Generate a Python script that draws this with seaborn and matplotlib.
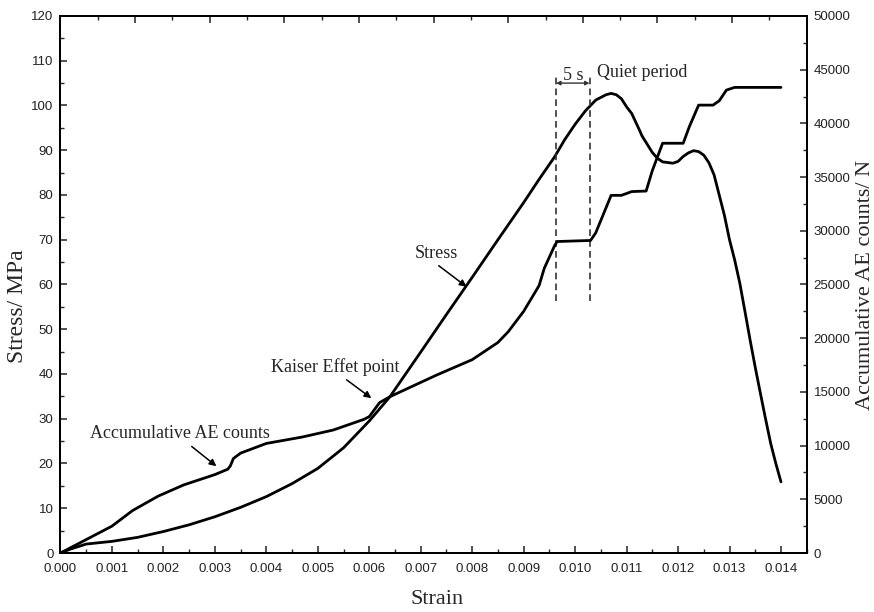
import pandas as pd
import matplotlib.pyplot as plt
import seaborn as sns
from matplotlib.ticker import MultipleLocator

# Stress curve (strain, MPa)
strain_s = [0.0, 0.0002, 0.0005, 0.001, 0.0015, 0.002, 0.0025, 0.003, 0.0035, 0.004,
            0.0045, 0.005, 0.0055, 0.006, 0.0064, 0.007, 0.0075, 0.008, 0.0085, 0.009,
            0.0093, 0.0096, 0.0098, 0.0100, 0.0102, 0.0104, 0.0106, 0.0107, 0.0108, 0.0109,
            0.0110, 0.0111, 0.01125, 0.0113, 0.0115, 0.0116, 0.0117, 0.0119, 0.0120, 0.0121,
            0.0122, 0.0123, 0.0124, 0.0125, 0.0126, 0.0127, 0.0128, 0.0129, 0.0130, 0.0131,
            0.0132, 0.0133, 0.0134, 0.0135, 0.0136, 0.0137, 0.0138, 0.0139, 0.0140]
stress = [0.0, 0.9, 2.0, 2.6, 3.5, 4.8, 6.3, 8.1, 10.2, 12.6,
          15.5, 18.9, 23.5, 29.5, 34.9, 44.9, 53.3, 61.6, 70.0, 78.3,
          83.5, 88.5, 92.4, 95.8, 98.8, 101.2, 102.4, 102.7, 102.4, 101.5,
          99.7, 98.2, 94.5, 93.2, 89.5, 88.2, 87.4, 87.1, 87.5, 88.6,
          89.4, 89.9, 89.7, 88.9, 87.2, 84.5, 80.0, 75.5, 70.0, 65.5,
          60.3, 54.0, 47.6, 41.5, 35.7, 30.0, 24.5, 20.0, 15.9]

# Accumulative AE counts (strain, counts)
strain_ae = [0.0, 0.0005, 0.001, 0.0014, 0.0019, 0.0024, 0.003, 0.00325, 0.0033, 0.00336,
             0.0035, 0.004, 0.0047, 0.0053, 0.0059, 0.006, 0.0062, 0.0064, 0.0073, 0.008,
             0.0085, 0.0087, 0.009, 0.0093, 0.0094, 0.0096, 0.00965, 0.0103, 0.0104, 0.0107,
             0.0109, 0.0111, 0.01138, 0.0115, 0.0117, 0.0121, 0.01222, 0.0124, 0.01268, 0.0128,
             0.01294, 0.0131, 0.0140]
ae_counts = [0, 1250, 2500, 3950, 5300, 6350, 7300, 7800, 8100, 8800,
             9300, 10200, 10800, 11450, 12450, 12700, 14000, 14550, 16550, 18000,
             19600, 20600, 22500, 24900, 26500, 28600, 29000, 29100, 29800, 33300,
             33300, 33650, 33700, 35600, 38150, 38150, 39700, 41700, 41700, 42100,
             43100, 43350, 43350]

# quiet period boundaries (strain)
quiet = [0.00963, 0.01028]

df_s = pd.DataFrame({"Strain": strain_s, "Stress": stress})
df_ae = pd.DataFrame({"Strain": strain_ae, "AE": ae_counts})

sns.set_style("ticks")
plt.rcParams["font.family"] = ["Liberation Sans", "DejaVu Sans"]
plt.rcParams["xtick.direction"] = "in"
plt.rcParams["ytick.direction"] = "in"
serif = ["Liberation Serif", "DejaVu Serif"]

fig = plt.figure(figsize=(8.74, 6.12), dpi=100)
ax = fig.add_axes([0.0692, 0.0964, 0.8538, 0.8775])
ax2 = ax.twinx()
ax_top = ax.twiny()

sns.lineplot(data=df_s, x="Strain", y="Stress", ax=ax, color="black", lw=2,
             estimator=None, sort=False)
sns.lineplot(data=df_ae, x="Strain", y="AE", ax=ax2, color="black", lw=2,
             estimator=None, sort=False)

ax.set_xlim(0, 0.0145)
ax.set_ylim(0, 120)
ax2.set_ylim(0, 50000)
ax_top.set_xlim(0, 10)

ax.xaxis.set_major_locator(MultipleLocator(0.001))
ax.xaxis.set_minor_locator(MultipleLocator(0.0005))
ax.xaxis.set_major_formatter(plt.FormatStrFormatter("%.3f"))
ax.yaxis.set_major_locator(MultipleLocator(10))
ax.yaxis.set_minor_locator(MultipleLocator(5))
ax2.yaxis.set_major_locator(MultipleLocator(5000))
ax2.yaxis.set_minor_locator(MultipleLocator(2500))
ax_top.xaxis.set_major_locator(MultipleLocator(1))
ax_top.xaxis.set_minor_locator(MultipleLocator(0.5))

for a in (ax, ax2, ax_top):
    a.tick_params(which="major", length=5, width=1.1, labelsize=9.5, colors="#222222")
    a.tick_params(which="minor", length=2.8, width=1.0)
    for sp in a.spines.values():
        sp.set_linewidth(1.3)
        sp.set_color("black")
ax.tick_params(axis="x", which="both", top=False, pad=7)
ax.tick_params(axis="y", which="both", right=False, pad=5)
ax2.tick_params(axis="y", which="both", left=False, pad=5)
ax_top.tick_params(axis="x", which="both", labeltop=False, bottom=False)

ax.set_xlabel("Strain", fontsize=16, family=serif)
ax.set_ylabel("Stress/ MPa", fontsize=17, family=serif)
ax2.set_ylabel("Accumulative AE counts/ N", fontsize=16, family=serif)
ax.xaxis.set_label_coords(0.505, -0.069)
ax.yaxis.set_label_coords(-0.043, 0.46)
ax2.yaxis.set_label_coords(1.066, 0.5)

# quiet period markers
ax.vlines(quiet, 56.2, 106.8, colors="#333333", linestyles=(0, (4, 2.5)), lw=1.2)
ax.annotate("", xy=(quiet[1], 105), xytext=(quiet[0], 105),
            arrowprops=dict(arrowstyle="<|-|>", color="#333333", lw=1, mutation_scale=6,
                            shrinkA=0, shrinkB=0))
ax.text(sum(quiet) / 2, 104.8, "5 s", ha="center", va="bottom", fontsize=13, family=serif)
ax.text(0.01042, 107.3, "Quiet period", ha="left", va="center", fontsize=13, family=serif)

arrow = dict(arrowstyle="-|>", color="black", lw=1.1, mutation_scale=10, shrinkA=0, shrinkB=0)
ax.text(0.00731, 67, "Stress", ha="center", va="center", fontsize=13, family=serif)
ax.annotate("", xy=(0.00789, 59.5), xytext=(0.00735, 64.2), arrowprops=arrow)
ax.text(0.00533, 41.6, "Kaiser Effet point", ha="center", va="center", fontsize=13, family=serif)
ax.annotate("", xy=(0.00604, 34.6), xytext=(0.00556, 38.7), arrowprops=arrow)
ax.text(0.00232, 26.7, "Accumulative AE counts", ha="center", va="center", fontsize=13, family=serif)
ax.annotate("", xy=(0.00303, 19.4), xytext=(0.00255, 23.8), arrowprops=arrow)

plt.savefig("out.png", dpi=100)
